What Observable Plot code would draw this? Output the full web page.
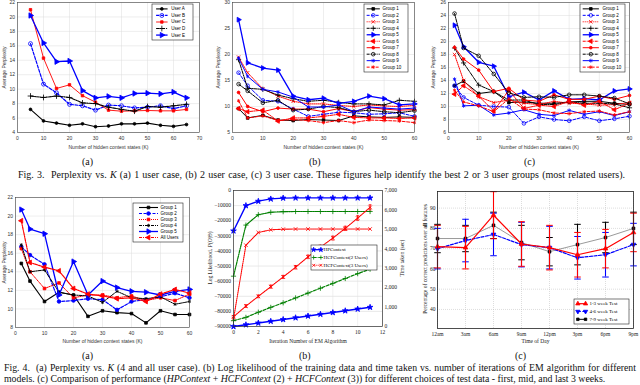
<!DOCTYPE html>
<html><head><meta charset="utf-8">
<script src="https://cdn.jsdelivr.net/npm/d3@7"></script>
<script src="https://cdn.jsdelivr.net/npm/@observablehq/plot@0.6"></script>
<style>
html,body{margin:0;padding:0;background:#fff;}
body{width:640px;height:385px;overflow:hidden;position:relative;font-family:"Liberation Serif","Times New Roman",serif;color:#000;}
.cap{position:absolute;font-family:"Liberation Serif","Times New Roman",serif;color:#111;white-space:nowrap;}
.rot{position:absolute;white-space:nowrap;transform:translate(-50%,-50%) rotate(-90deg);font-family:"Liberation Serif","Times New Roman",serif;color:#222;}
</style></head><body>
<script>
// ---------------- DATA ----------------
// Fig 3(a): 1 user case
const kUsers = [5,10,15,20,25,30,35,40,45,50,55,60,65];
const userA = [7.2,5.6,5.3,5.0,5.2,4.8,4.9,5.2,5.2,5.3,5.0,4.85,5.1];
const userB = [16.3,10.7,9.5,7.9,7.7,7.1,7.8,7.7,7.4,7.5,7.7,7.3,7.7];
const userC = [21.0,14.3,10.1,10.6,9.1,8.2,7.1,6.95,7.0,7.05,7.0,7.0,7.2];
const userD = [9.05,8.85,9.05,8.85,8.1,8.0,7.5,7.2,6.95,7.6,7.5,7.7,7.9];
const userE = [20.2,16.4,13.8,13.9,9.8,8.8,9.0,8.8,9.4,9.45,9.35,9.6,8.8];
const userNames = ["User A","User B","User C","User D","User E"];

// Fig 3(b)/(c) and 4(a): K values
const kGroups = [2,5,10,15,20,25,30,35,40,45,50,55,60];
const groupNames = ["Group 1","Group 2","Group 3","Group 4","Group 5","Group 6","Group 7","Group 8","Group 9","Group 10"];
// Fig 3(b): 2 user case
const b1 = [9.6,7.8,8.3,7.4,7.3,7.5,7.4,7.3,8.2,8.0,7.9,8.0,7.9];
const b2 = [16.5,14.0,11.2,11.0,9.5,8.1,8.5,8.9,8.8,8.5,8.6,8.8,8.1];
const b3 = [19.5,16.5,13.4,12.0,11.0,10.5,10.5,10.2,10.0,10.3,10.1,10.0,10.2];
const b4 = [19.0,13.5,13.3,12.2,11.5,11.0,11.2,10.8,10.5,10.5,10.3,11.2,11.0];
const b5 = [26.7,18.4,17.4,17.0,12.0,11.3,11.6,10.6,11.0,12.0,11.5,10.3,10.5];
const b6 = [9.6,9.0,9.3,7.2,7.8,7.8,8.1,8.5,7.9,7.8,7.8,7.7,7.8];
const b7 = [12.7,10.0,9.0,9.7,9.5,9.5,9.0,9.6,9.0,9.8,9.5,9.3,9.4];
const b8 = [14.3,13.0,10.7,11.2,9.3,9.5,10.0,9.8,9.0,9.3,9.0,8.8,9.2];
const b9 = [19.3,15.8,13.3,12.8,11.8,9.9,9.9,10.3,9.0,9.9,9.7,9.5,9.7];
const b10 = [11.1,7.8,8.2,7.3,7.5,7.3,6.9,7.3,6.9,7.4,7.3,7.2,6.9];
// Fig 3(c): 3 user case
const c1 = [13.2,13.9,12.0,12.3,10.6,10.7,10.5,10.5,10.7,10.8,10.8,10.5,10.3];
const c2 = [13.2,11.4,10.2,10.0,9.9,7.4,8.4,8.0,7.8,8.4,7.8,8.1,8.5];
const c3 = [18.0,14.0,11.5,10.6,11.0,10.5,10.3,10.8,10.5,10.4,10.2,10.3,10.6];
const c4 = [19.0,16.7,13.3,12.3,11.0,11.0,10.3,10.3,10.7,10.5,10.5,10.4,9.8];
const c5 = [22.5,19.2,16.8,16.2,11.5,12.2,11.0,12.4,11.1,11.2,11.0,12.4,12.7];
const c6 = [11.9,13.2,11.6,9.3,12.5,9.7,10.2,10.0,10.8,10.2,10.8,9.5,10.5];
const c7 = [19.1,17.3,15.6,12.3,12.8,11.0,10.8,11.8,11.1,11.1,11.6,11.1,11.7];
const c8 = [24.3,19.0,17.8,15.0,12.1,11.4,11.5,11.4,11.8,11.8,11.6,11.3,10.4];
const c9 = [14.2,10.1,10.2,8.7,9.0,9.5,8.8,8.6,9.4,8.8,9.2,8.6,9.2];
const c10 = [12.5,10.7,10.1,9.2,11.2,9.6,9.5,9.0,8.9,9.2,9.3,8.7,9.2];
// Fig 4(a): 4 and all user case
const allNames = ["Group 1","Group 2","Group 3","Group 4","Group 5","All Users"];
const a1 = [14.9,13.0,10.8,11.8,11.5,9.2,9.8,9.6,9.5,8.5,9.8,9.4,9.4];
const a2 = [16.7,15.8,14.8,10.8,10.9,11.1,11.0,9.9,10.8,11.0,11.3,11.7,11.2];
const a3 = [16.5,14.0,12.2,12.8,11.2,11.5,11.5,11.2,11.4,10.9,11.2,10.9,11.6];
const a4 = [16.9,14.0,14.2,11.8,11.5,11.4,10.7,11.9,11.2,11.1,11.3,10.5,10.8];
const a5 = [20.7,18.6,18.1,11.5,15.1,11.5,13.0,12.3,11.9,11.8,11.5,11.9,12.1];
const aAll = [19.5,15.0,14.5,14.1,12.2,11.6,11.4,11.1,11.2,10.8,11.6,12.1,11.7];

// Fig 4(b): EM iterations
const iters = [0,1,2,3,4,5,6,7,8,9,10,11];
const modelNames = ["HPContext","HCFContext(2 Users)","HCFContext(3 Users)"];
const hpLL   = [-26700,-10000,-7100,-5600,-5000,-4900,-4900,-4900,-4900,-4900,-4900,-4900];
const hcf2LL = [-56700,-22900,-16000,-14400,-14000,-13900,-13900,-13900,-13900,-13900,-13900,-13900];
const hcf3LL = [-85000,-36200,-27800,-26000,-25600,-25500,-25500,-25500,-25500,-25500,-25500,-25500];
const hpTime   = [0,90,180,270,360,450,540,630,720,810,900,990];
const hcf2Time = [300,470,735,985,1220,1470,1720,1970,2220,2470,2720,2950];
const hcf3Time = [500,1050,1550,2050,2550,3050,3585,4085,4550,5050,5580,6130];
const hcf3TimeErr = [60,70,70,80,80,90,90,100,100,110,120,130];

// Fig 4(c): time of day
const hours = [0,3,6,9,12,15,18,21];
const hourLabels = ["12am","3am","6am","9am","12pm","3pm","6pm","9pm"];
const pctTicks = [40,50,60,70,80,90];
const testNames = ["1-3 week Test","4-6 week Test","7-9 week Test"];
const w13 = [71,70.5,86.5,72.3,70.5,67,70,78];
const w13err = [10.5,10.5,11.6,11,11,11,9.5,9.5];
const w46 = [70,74,77,72,70.5,65.5,67,72];
const w46err = [10,10.5,10.5,11,10.5,10.5,11,10.5];
const w79 = [75,75,81.5,73,68.5,72,75.5,80];
const w79err = [7,6.5,6.5,8.5,7,10,7.5,8];

// ---------------- STYLE ----------------
const SANS = "Liberation Sans, Arial, Helvetica, sans-serif";
const SERIF = "Liberation Serif, Times New Roman, serif";
const K="#000000", B="#0000ff", R="#ff0000", G="#008000";
const DASH="3,1.5", DOT="1,1", DD="3,1,1,1";
const groupStyle = [
  {c:K, sym:"square", fill:true, r:1.5},
  {c:B, dash:DASH, sym:"circle", r:1.8},
  {c:R, dash:DOT, sym:"times", r:1.7},
  {c:K, dash:DD, sym:"plus", r:1.8},
  {c:B, sym:"triangle", rot:90, fill:true, r:1.8, w:1.3},
  {c:R, dash:DD, sym:"triangle", rot:-90, fill:true, r:1.7},
  {c:R, sym:"circle", fill:true, r:1.4},
  {c:K, dash:DD, sym:"circle", r:1.8},
  {c:B, sym:"asterisk", r:1.8},
  {c:R, dash:DASH, sym:"asterisk", r:1.7}
];
const userStyle = [
  {c:K, sym:"circle", fill:true, r:1.4, w:1.1},
  {c:B, dash:DASH, sym:"circle", r:2, w:1.2},
  {c:R, sym:"square", fill:true, r:1.4, w:0.9},
  {c:K, dash:DD, sym:"plus", r:2, w:1.1},
  {c:B, sym:"triangle", rot:90, fill:true, r:2, w:1.3}
];
const allStyle = [
  {c:K, sym:"square", fill:true, r:1.5, w:1.1},
  {c:B, dash:DASH, sym:"circle", fill:true, r:1.8, w:1.2},
  {c:R, dash:DOT, sym:"square", fill:true, r:1.5},
  {c:K, dash:DD, sym:"asterisk", r:1.6},
  {c:B, sym:"triangle", rot:90, fill:true, r:2, w:1.3},
  {c:R, dash:DD, sym:"triangle", rot:-90, fill:true, r:1.8, w:1.2}
];

// ---------------- HELPERS ----------------
function place(svg, left, top) {
  svg.style.position = "absolute";
  svg.style.left = left + "px";
  svg.style.top = top + "px";
  svg.style.overflow = "visible";
  document.body.appendChild(svg);
  return svg;
}
function seriesMarks(xs, list, styles) {
  const marks = [];
  list.forEach((vals, j) => {
    const s = styles[j];
    const d = xs.map((x, i) => ({x, y: vals[i]}));
    marks.push(Plot.line(d, {x:"x", y:"y", stroke:s.c, strokeWidth:s.w||1, strokeDasharray:s.dash}));
    marks.push(Plot.dot(d, {x:"x", y:"y", symbol:s.sym, r:s.r||1.8, stroke:s.c, fill:s.fill?s.c:"none", rotate:s.rot||0, strokeWidth:0.8}));
  });
  return marks;
}
function legend({left, top, width, height, names, styles, font, fontSize, x0=0.1, x1=0.36, tx=0.42, ends=false, pad=0.25, rs=1}) {
  const n = names.length;
  const marks = [Plot.frame({fill:"white", stroke:"#222", strokeWidth:0.6})];
  names.forEach((name, i) => {
    const s = styles[i];
    marks.push(Plot.link([{a:x0, b:x1, i}], {x1:"a", x2:"b", y1:"i", y2:"i", stroke:s.c, strokeWidth:s.w||1, strokeDasharray:s.dash}));
    const px = ends ? [x0, x1] : [(x0+x1)/2];
    marks.push(Plot.dot(px.map(x => ({x, i})), {x:"x", y:"i", symbol:s.sym, r:(s.r||1.8)*rs, stroke:s.c, fill:s.fill?s.c:"none", rotate:s.rot||0, strokeWidth:0.8}));
  });
  marks.push(Plot.text(names.map((t, i) => ({t, i, x:tx})), {x:"x", y:"i", text:"t", textAnchor:"start", fontSize, fontFamily:font, fill:"#000"}));
  const svg = Plot.plot({
    width, height, margin:0.5,
    x:{domain:[0,1], range:[0.5,width-0.5], axis:null},
    y:{domain:[-0.5-pad, n-0.5+pad], range:[0.5,height-0.5], axis:null},
    style:{background:"none", overflow:"visible"},
    marks
  });
  return place(svg, left, top);
}
function perplexityPanel({left, top, width, height, mL, mR, mT, mB, xDom, xTicks, yDom, yTicks, xs, list, styles, xLabelOff=16, yLabelOff=15}) {
  const svg = Plot.plot({
    width, height, marginLeft:mL, marginRight:mR, marginTop:mT, marginBottom:mB,
    x:{domain:xDom}, y:{domain:yDom},
    style:{background:"none", fontFamily:SANS, fontSize:"5px", color:"#333", overflow:"visible"},
    marks:[
      Plot.gridX(xTicks, {stroke:"#dcdcdc", strokeOpacity:1, strokeWidth:0.5}),
      Plot.gridY(yTicks, {stroke:"#dcdcdc", strokeOpacity:1, strokeWidth:0.5}),
      Plot.axisX({ticks:xTicks, tickSize:0, tickPadding:4, label:"Number of hidden context states (K)", labelAnchor:"center", labelOffset:xLabelOff, labelArrow:"none"}),
      Plot.axisY({ticks:yTicks, tickSize:0, tickPadding:2.5, label:"Average Perplexity", labelAnchor:"center", labelOffset:yLabelOff, labelArrow:"none"}),
      ...seriesMarks(xs, list, styles),
      Plot.frame({stroke:"#444", strokeWidth:0.6})
    ]
  });
  return place(svg, left, top);
}
function rotLabel(html, cx, cy, size) {
  const d = document.createElement("div");
  d.className = "rot";
  d.style.left = cx + "px"; d.style.top = cy + "px"; d.style.fontSize = size + "px";
  d.innerHTML = html;
  document.body.appendChild(d);
}

// ---------------- FIG 3 ----------------
perplexityPanel({left:0, top:0, width:215, height:152, mL:17, mR:16, mT:2, mB:20,
  xDom:[0,70], xTicks:d3.range(0,71,10), yDom:[4,22], yTicks:d3.range(4,23,2),
  xs:kUsers, list:[userA,userB,userC,userD,userE], styles:userStyle});
legend({left:151, top:3, width:42, height:37, names:userNames, styles:userStyle, font:SANS, fontSize:4.5, x0:0.1, x1:0.38, tx:0.47});

perplexityPanel({left:212, top:0, width:213, height:152, mL:20, mR:11, mT:2, mB:20,
  xDom:[0,60], xTicks:d3.range(0,61,10), yDom:[5,30], yTicks:d3.range(5,31,5),
  xs:kGroups, list:[b1,b2,b3,b4,b5,b6,b7,b8,b9,b10], styles:groupStyle, yLabelOff:16});
legend({left:363, top:3, width:45, height:69, names:groupNames, styles:groupStyle, font:SANS, fontSize:4.5, x0:0.06, x1:0.36, tx:0.42});

perplexityPanel({left:427, top:0, width:213, height:152, mL:21, mR:11, mT:2, mB:20,
  xDom:[0,60], xTicks:d3.range(0,61,10), yDom:[6,26], yTicks:d3.range(6,27,2),
  xs:kGroups, list:[c1,c2,c3,c4,c5,c6,c7,c8,c9,c10], styles:groupStyle, yLabelOff:17});
legend({left:579, top:3, width:46, height:69, names:groupNames, styles:groupStyle, font:SANS, fontSize:4.5, x0:0.06, x1:0.42, tx:0.5});

// ---------------- FIG 4(a) ----------------
perplexityPanel({left:0, top:190, width:205, height:155, mL:15, mR:16, mT:7, mB:18,
  xDom:[0,60], xTicks:d3.range(0,61,10), yDom:[8,22], yTicks:d3.range(8,23,2),
  xs:kGroups, list:[a1,a2,a3,a4,a5,aAll], styles:allStyle, xLabelOff:15, yLabelOff:13});
legend({left:132, top:202, width:51, height:40, names:allNames, styles:allStyle, font:SANS, fontSize:4.5, x0:0.12, x1:0.5, tx:0.55});

// ---------------- FIG 4(b) ----------------
const tToY = t => -90000 + t * 90000 / 7000;
const yToT = y => Math.round((y + 90000) * 7000 / 90000);
const bStyles = [
  {c:B, sym:"star", fill:true, r:1.8, w:1.3},
  {c:G, dash:DD, sym:"plus", r:1.8, w:1.2},
  {c:R, dash:DOT, sym:"times", r:1.8, w:1.1}
];
{
  const mk = (ys, f) => iters.map((x, i) => ({x, y: f(ys[i]), i}));
  const ll = [hpLL, hcf2LL, hcf3LL];
  const tt = [hpTime, hcf2Time, hcf3Time];
  const tDash = [null, DASH, DOT];
  const marks = [
    Plot.gridX(d3.range(0,13,2), {stroke:"#e2e2e2", strokeOpacity:1, strokeWidth:0.5}),
    Plot.gridY(d3.range(-90000,1,10000), {stroke:"#e2e2e2", strokeOpacity:1, strokeWidth:0.8}),
    Plot.axisX({ticks:d3.range(0,13,2), tickSize:0, tickPadding:4, label:"Iteration Number of EM Algorithm", labelAnchor:"center", labelOffset:16, labelArrow:"none"}),
    Plot.axisY({ticks:d3.range(-90000,1,10000), tickSize:0, tickPadding:2.5, tickFormat:d => d === 0 ? "0" : "\u2212" + Math.abs(d), label:null}),
    Plot.axisY({anchor:"right", ticks:d3.range(0,7001,1000).map(tToY), tickSize:0, tickPadding:2, tickFormat:yToT, label:null})
  ];
  ll.forEach((ys, j) => {
    const s = bStyles[j], d = mk(ys, v => v);
    marks.push(Plot.line(d, {x:"x", y:"y", stroke:s.c, strokeWidth:s.w, strokeDasharray:s.dash}));
    marks.push(Plot.dot(d, {x:"x", y:"y", symbol:s.sym, r:s.r, stroke:s.c, fill:s.fill?s.c:"none", strokeWidth:0.8}));
  });
  tt.forEach((ys, j) => {
    const s = bStyles[j], d = mk(ys, tToY);
    marks.push(Plot.line(d, {x:"x", y:"y", stroke:s.c, strokeWidth:s.w, strokeDasharray:tDash[j]}));
    marks.push(Plot.dot(d, {x:"x", y:"y", symbol:s.sym, r:s.r, stroke:s.c, fill:s.fill?s.c:"none", strokeWidth:0.8}));
  });
  const eb = iters.map((x, i) => ({x, lo:tToY(hcf3Time[i]-hcf3TimeErr[i]), hi:tToY(hcf3Time[i]+hcf3TimeErr[i])}));
  marks.push(Plot.ruleX(eb, {x:"x", y1:"lo", y2:"hi", stroke:R, strokeWidth:1}));
  marks.push(Plot.link(eb, {x1:e => e.x-0.12, x2:e => e.x+0.12, y1:"lo", y2:"lo", stroke:R, strokeWidth:0.8}));
  marks.push(Plot.link(eb, {x1:e => e.x-0.12, x2:e => e.x+0.12, y1:"hi", y2:"hi", stroke:R, strokeWidth:0.8}));
  marks.push(Plot.frame({stroke:"#333", strokeWidth:0.7}));
  const svg = Plot.plot({
    width:220, height:160, marginLeft:28, marginRight:43, marginTop:5, marginBottom:19,
    x:{domain:[0,12]}, y:{domain:[-90000,0]},
    style:{background:"none", fontFamily:SERIF, fontSize:"5.5px", color:"#222", overflow:"visible"},
    marks
  });
  place(svg, 205, 185);
}
rotLabel('Log Likelihood, <i>P</i>(<i>O</i>|Θ)', 209.5, 258, 5.5);
rotLabel('Time taken (sec)', 402, 258, 5.5);
legend({left:310, top:244, width:67, height:26, names:modelNames, styles:bStyles, font:SERIF, fontSize:5, x0:0.04, x1:0.15, tx:0.19, ends:true, pad:0.1, rs:0.8});

// ---------------- FIG 4(c) ----------------
const cStyles = [
  {c:R, sym:"triangle", fill:true, r:1.8, w:1.2, eb:R},
  {c:B, dash:DASH, sym:"triangle", rot:180, fill:true, r:1.8, w:1.2, eb:B},
  {c:"#808080", sym:"square", fill:true, r:1.6, w:0.8, mk:K, eb:K}
];
{
  const series = [[w13,w13err],[w46,w46err],[w79,w79err]];
  const marks = [
    Plot.gridX(hours, {stroke:"#bbb", strokeOpacity:1, strokeWidth:0.5, strokeDasharray:"1,1"}),
    Plot.gridY(pctTicks, {stroke:"#bbb", strokeOpacity:1, strokeWidth:0.5, strokeDasharray:"1,1"}),
    Plot.axisX({ticks:hours, tickSize:0, tickPadding:4, tickFormat:(v) => hourLabels[hours.indexOf(v)], label:"Time of Day", labelAnchor:"center", labelOffset:14, labelArrow:"none"}),
    Plot.axisY({anchor:"left", ticks:pctTicks, tickSize:0, tickPadding:2, tickFormat:(v) => String(v), label:null})
  ];
  [2,1,0].forEach(j => {
    const s = cStyles[j], [v, e] = series[j];
    const d = hours.map((x, i) => ({x, y:v[i], lo:v[i]-e[i], hi:Math.min(v[i]+e[i], 98.2)}));
    marks.push(Plot.ruleX(d, {x:"x", y1:"lo", y2:"hi", stroke:s.eb, strokeWidth:1.1}));
    marks.push(Plot.link(d, {x1:p => p.x-0.35, x2:p => p.x+0.35, y1:"lo", y2:"lo", stroke:s.eb, strokeWidth:1}));
    marks.push(Plot.link(d, {x1:p => p.x-0.35, x2:p => p.x+0.35, y1:"hi", y2:"hi", stroke:s.eb, strokeWidth:1}));
    marks.push(Plot.line(d, {x:"x", y:"y", stroke:s.c, strokeWidth:s.w, strokeDasharray:s.dash}));
    marks.push(Plot.dot(d, {x:"x", y:"y", symbol:s.sym, r:s.r, fill:s.mk||s.c, stroke:s.mk||s.c, rotate:s.rot||0, strokeWidth:0.6}));
  });
  marks.push(Plot.frame({stroke:"#222", strokeWidth:0.8}));
  const svg = Plot.plot({
    width:215, height:160, marginLeft:12, marginRight:7, marginTop:6, marginBottom:17,
    x:{domain:[0,21]}, y:{domain:[30.6,98.2]},
    style:{background:"none", fontFamily:SERIF, fontSize:"5.5px", color:"#222", overflow:"visible"},
    marks
  });
  place(svg, 425, 185);
}
rotLabel('Percentage of correct predictions over <b>all</b> features', 424.5, 259, 5.5);
legend({left:573, top:298, width:56, height:26, names:testNames,
  styles:[{c:R, sym:"triangle", fill:true, r:1.6, w:1.2},{c:B, dash:DASH, sym:"triangle", rot:180, fill:true, r:1.6, w:1.2},{c:K, sym:"square", fill:true, r:1.4, w:1}],
  font:SERIF, fontSize:5, x0:0.07, x1:0.21, tx:0.28, ends:true, pad:0.1});

// ---------------- CAPTIONS ----------------
function cap(html, left, top, size, extra) {
  const d = document.createElement("div");
  d.className = "cap";
  d.style.left = left + "px"; d.style.top = top + "px"; d.style.fontSize = size + "px";
  if (extra) Object.assign(d.style, extra);
  d.innerHTML = html;
  document.body.appendChild(d);
  return d;
}
cap("(a)", 82, 156, 10);
cap("(b)", 309, 156, 10);
cap("(c)", 524, 156, 10);
cap('Fig. 3.&nbsp;&nbsp;Perplexity vs. <i>K</i> (a) 1 user case, (b) 2 user case, (c) 3 user case. These figures help identify the best 2 or 3 user groups (most related users).', 18, 169, 10, {width:"607px", textAlign:"justify", textAlignLast:"justify", whiteSpace:"normal"});
cap("(a)", 82, 350, 10);
cap("(b)", 299, 350, 10);
cap("(c)", 515, 350, 10);
cap('Fig. 4.&nbsp;&nbsp;(a) Perplexity vs. <i>K</i> (4 and all user case). (b) Log likelihood of the training data and time taken vs. number of iterations of EM algorithm for different', 4, 362, 9.8, {width:"632px", textAlign:"justify", textAlignLast:"justify", whiteSpace:"normal"});
cap('models. (c) Comparison of performance (<i>HPContext</i> + <i>HCFContext</i> (2) + <i>HCFContext</i> (3)) for different choices of test data - first, mid, and last 3 weeks.', 4, 373, 9.8);
</script>
</body></html>
